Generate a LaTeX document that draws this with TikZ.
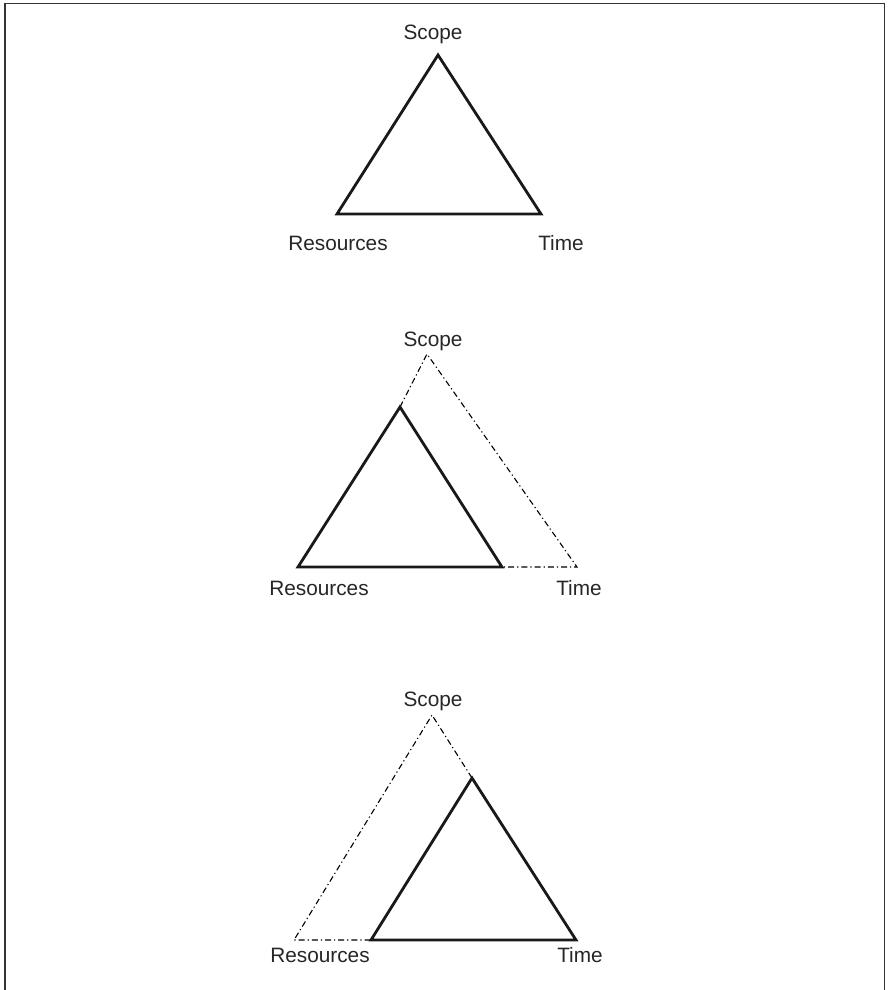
\documentclass[tikz,border=0pt]{standalone}
\usepackage{fontspec}
\setmainfont{Liberation Sans}
\begin{document}
\begin{tikzpicture}[x=1pt,y=-1pt,
  framebox/.style={draw=black!80,line width=1.7pt},
  solidtri/.style={draw=black!90,line width=2.8pt,line join=miter},
  ghost/.style={draw=black,line width=1.1pt,dash pattern=on 6pt off 3pt on 1.2pt off 3pt},
  lbl/.style={anchor=base,inner sep=0pt,font=\fontsize{20.8}{24}\selectfont,text=black!85}]
\useasboundingbox (0,0) rectangle (888,990);
\draw[framebox] (5,992) -- (5,3.5) -- (884.5,3.5) -- (884.5,992);
% Triangle 1
\coordinate (a1) at (438,55);
\coordinate (l1) at (337,214);
\coordinate (r1) at (541,214);
\draw[solidtri] (a1) -- (l1) -- (r1) -- cycle;
\node[lbl] (s1) at (433,39.5) {Scope};
\node[lbl] (res1) at (338,250.5) {Resources};
\node[lbl] (t1) at (561,250.5) {Time};
% Triangle 2
\coordinate (ga2) at (427,354);
\coordinate (gr2) at (577,567);
\coordinate (a2) at (400,407);
\coordinate (l2) at (298,567);
\coordinate (r2) at (502,567);
\draw[ghost] (a2) -- (ga2) -- (gr2) -- (r2);
\draw[solidtri] (a2) -- (l2) -- (r2) -- cycle;
\node[lbl] (s2) at (433,346) {Scope};
\node[lbl] (res2) at (319,595) {Resources};
\node[lbl] (t2) at (579,595) {Time};
% Triangle 3
\coordinate (ga3) at (432,715);
\coordinate (gl3) at (294,940);
\coordinate (a3) at (472,778);
\coordinate (l3) at (371,940);
\coordinate (r3) at (576,940);
\draw[ghost] (a3) -- (ga3) -- (gl3) -- (l3);
\draw[solidtri] (a3) -- (l3) -- (r3) -- cycle;
\node[lbl] (s3) at (433,706) {Scope};
\node[lbl] (res3) at (320,962) {Resources};
\node[lbl] (t3) at (580,962) {Time};
\end{tikzpicture}
\end{document}
